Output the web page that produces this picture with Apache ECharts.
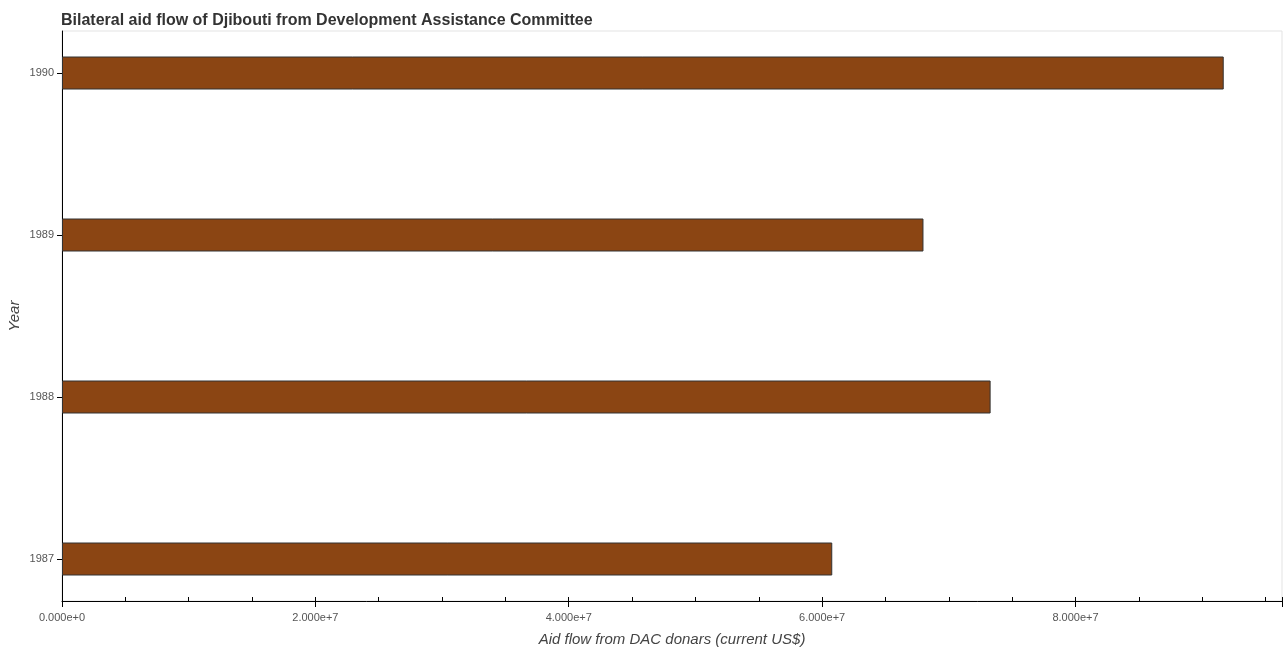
<!DOCTYPE html>
<html>
<head>
<meta charset="utf-8">
<script src="https://cdn.jsdelivr.net/npm/echarts@6/dist/echarts.min.js"></script>
<style>html,body{margin:0;padding:0;background:#fff}#c{width:1287px;height:650px}</style>
</head>
<body>
<div id="c"></div>
<script>
var years = ['1987', '1988', '1989', '1990'];
var aidFlow = [6.08e7, 7.33e7, 6.80e7, 9.17e7];
var xTicks = [0, 2e7, 4e7, 6e7, 8e7];
var titleText = 'Bilateral aid flow of Djibouti from Development Assistance Committee';
var xName = 'Aid flow from DAC donars (current US$)';
var yName = 'Year';

var xMax = 9.63e7;
var font = '"Liberation Sans", Arial, sans-serif';
var chart = echarts.init(document.getElementById('c'), null, {renderer: 'canvas'});
chart.setOption({
  animation: false,
  title: {
    text: titleText, left: 56, top: 8,
    textStyle: {fontFamily: font, fontSize: 16, fontWeight: 'bold', color: '#333'}
  },
  grid: [
    {left: 62, right: 5, top: 73, bottom: 91, outerBoundsMode: 'none', containLabel: false},
    {left: 62, right: 5, top: 31, bottom: 49, outerBoundsMode: 'none', containLabel: false,
     show: true, borderColor: '#e3e3e3', borderWidth: 1, backgroundColor: 'transparent'}
  ],
  xAxis: [
    {gridIndex: 0, type: 'value', min: 0, max: xMax, show: false},
    {gridIndex: 1, type: 'value', position: 'bottom', min: 0, max: xMax, interval: 2e7,
     name: xName, nameLocation: 'middle', nameGap: 31,
     nameTextStyle: {fontFamily: font, fontSize: 15, fontStyle: 'italic', color: '#444'},
     axisLine: {show: true, lineStyle: {color: '#000', width: 1}},
     axisTick: {show: true, length: 6, lineStyle: {color: '#000'}},
     splitLine: {show: false},
     axisLabel: {fontFamily: font, fontSize: 11, color: '#555', margin: 11,
       formatter: function (v) { return v.toExponential(3); },
       customValues: xTicks}
    },
    {gridIndex: 1, type: 'value', position: 'bottom', min: 0, max: xMax, interval: 5e6,
     axisLine: {show: false}, axisLabel: {show: false}, splitLine: {show: false},
     axisTick: {show: true, inside: true, length: 4, lineStyle: {color: '#000'}}
    }
  ],
  yAxis: [
    {gridIndex: 0, type: 'category', data: years, boundaryGap: false,
     axisLine: {show: false},
     axisTick: {show: true, length: 5, lineStyle: {color: '#000'}},
     axisLabel: {fontFamily: font, fontSize: 11, color: '#555', margin: 8},
     splitLine: {show: false}
    },
    {gridIndex: 1, type: 'value', min: 0, max: 1,
     name: yName, nameLocation: 'middle', nameGap: 40,
     nameTextStyle: {fontFamily: font, fontSize: 15, fontStyle: 'italic', color: '#444'},
     axisLine: {show: true, lineStyle: {color: '#000', width: 1}},
     axisTick: {show: false}, axisLabel: {show: false}, splitLine: {show: false}
    }
  ],
  series: [{
    type: 'bar', xAxisIndex: 0, yAxisIndex: 0,
    data: aidFlow, barWidth: 33,
    itemStyle: {color: '#8B4513', borderColor: '#333', borderWidth: 1}
  }]
});
</script>
</body>
</html>
